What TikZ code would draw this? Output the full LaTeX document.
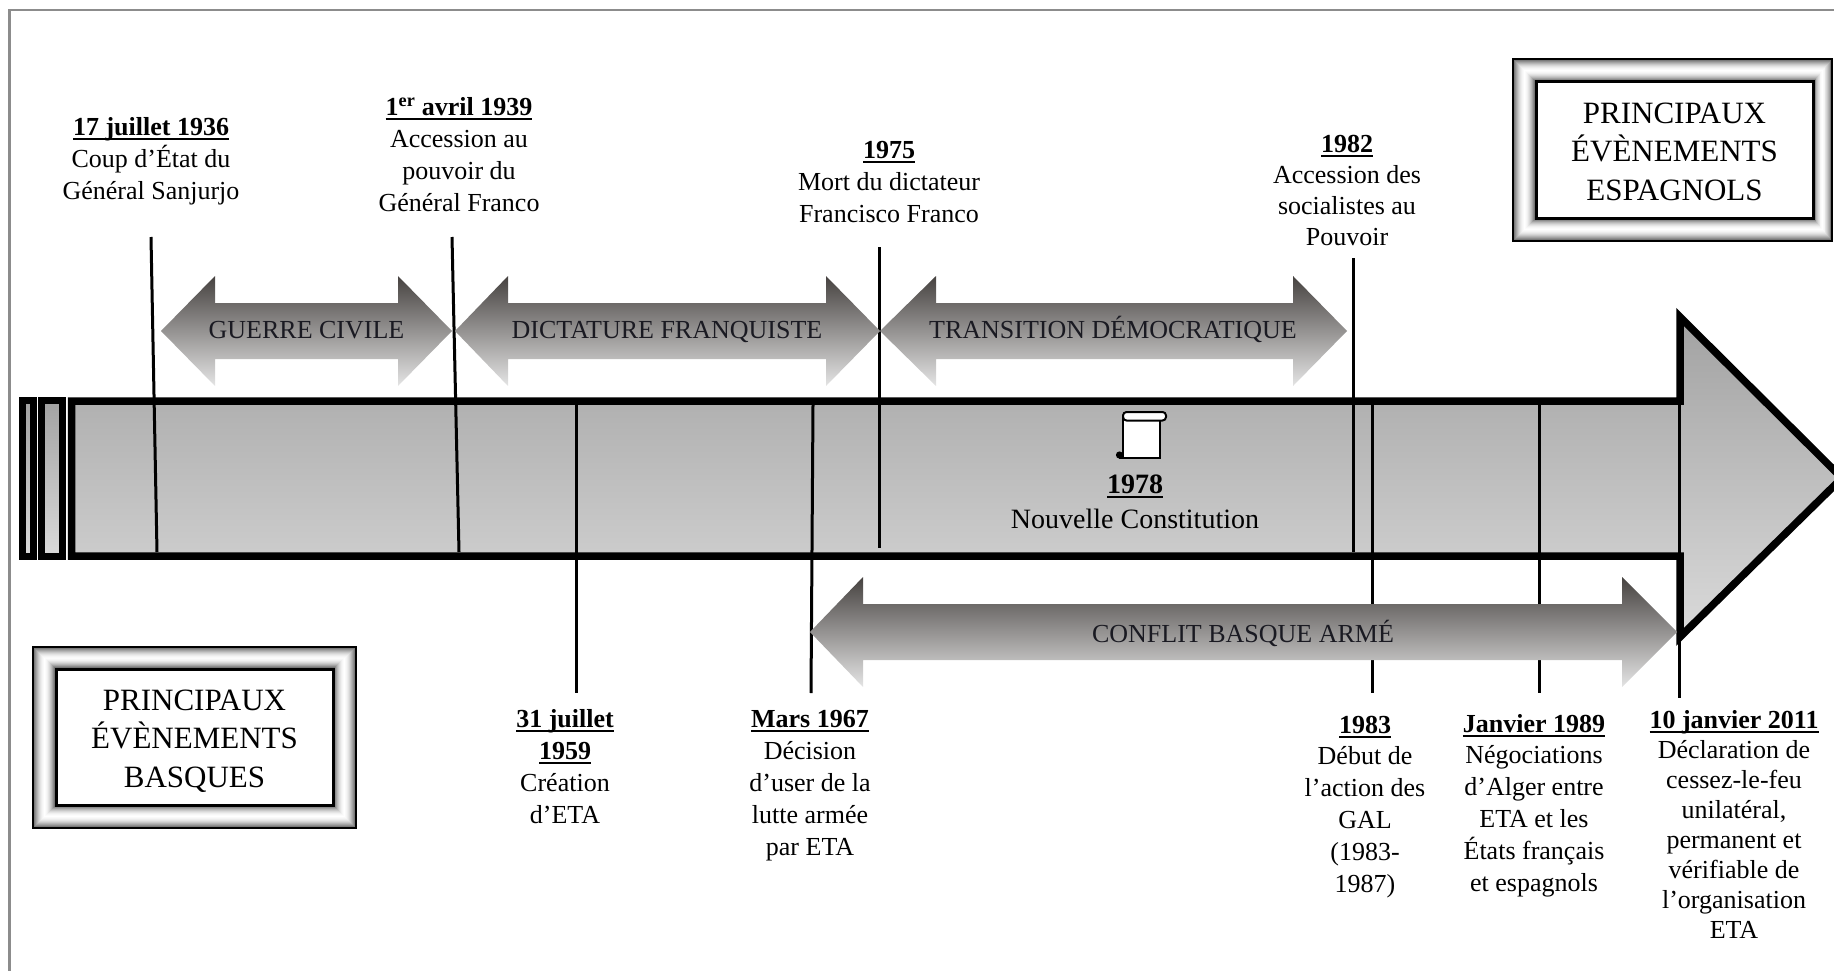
\documentclass[tikz,border=0pt]{standalone}
\usepackage{fontspec}
\setmainfont{Liberation Serif}
\usetikzlibrary{calc}
\newsavebox\ulbox
\newcommand\ulx[1]{\sbox\ulbox{#1}\rlap{\rule[-4.6pt]{\wd\ulbox}{1.9pt}}\usebox\ulbox}
\definecolor{frameGray}{RGB}{140,140,140}
\definecolor{perTop}{RGB}{70,66,64}
\definecolor{perMid}{RGB}{98,94,92}
\definecolor{perBot}{RGB}{228,228,228}
\definecolor{barTop}{RGB}{162,162,162}
\definecolor{barMid}{RGB}{215,215,215}
\definecolor{barBot}{RGB}{218,218,218}
\definecolor{labelText}{RGB}{26,26,34}
\tikzset{
  evt/.style={align=center, inner sep=0pt, anchor=north, font=\fontsize{26}{32}\selectfont},
  evline/.style={line width=3pt, black},
  period/.style={top color=perTop, middle color=perMid, bottom color=perBot},
  plabel/.style={font=\fontsize{26}{32}\selectfont, text=labelText, anchor=base, inner sep=0pt},
  boxtext/.style={align=center, inner sep=0pt, anchor=north, font=\fontsize{31}{38.5}\selectfont},
  barshade/.style={top color=barTop, middle color=barMid, bottom color=barBot},
}
\newcommand\dblarrow[5]{%
  \shade[period] (#1,#5) -- (#2,#5-55) -- (#2,#5-28) -- (#3,#5-28) -- (#3,#5-55) -- (#4,#5)
    -- (#3,#5+55) -- (#3,#5+28) -- (#2,#5+28) -- (#2,#5+55) -- cycle;}
\newcommand\shadedframe[4]{% outer NW, outer SE, inner NW, inner SE
  \coordinate (o1) at #1; \coordinate (o2) at #2;
  \coordinate (i1) at #3; \coordinate (i2) at #4;
  \foreach \k/\c in {0/60,1/52,2/44,3/36,4/29,5/22,6/16,7/11,8/7,9/4,10/2,11/0,12/1,13/3,14/6,15/10,16/15,17/21,18/28,19/36,20/45,21/54,22/62}
    {\fill[black!\c] ($(o1)!\k/23!(i1)$) rectangle ($(o2)!\k/23!(i2)$);}
  \draw[line width=2pt] (o1) rectangle (o2);
  \draw[line width=3pt, fill=white] (i1) rectangle (i2);}
\begin{document}
\begin{tikzpicture}[x=1pt, y=-1pt]
\useasboundingbox (0,0) rectangle (1834,971);
% outer frame
\draw[frameGray, line width=2.5pt] (9.5,990) -- (9.5,10) -- (1850,10);

% main time arrow
\draw[barshade, line width=7.5pt, line join=miter, miter limit=20]
  (71.5,401) -- (1680,401) -- (1680,317) -- (1842,478) -- (1680,637) -- (1680,556) -- (71.5,556) -- cycle;
\draw[barshade, line width=6.8pt] (22.4,400.4) rectangle (33.6,556.6);
\draw[barshade, line width=6.8pt] (41.5,400.4) rectangle (62.5,556.6);

% scroll icon
\draw[line width=2pt, fill=white] (1123,417) -- (1123,457.5) -- (1160,457.5) -- (1160,417);
\draw[line width=2pt, fill=white, rounded corners=3.5pt] (1123,412) rectangle (1166,420.5);
\fill (1119.5,455) circle (3.6);
\draw[line width=2pt] (1119,458) -- (1123,458);

% event lines (top events)
\coordinate (a1936) at (151,237);  \coordinate (b1936) at (157,552);
\coordinate (a1939) at (452,237);  \coordinate (b1939) at (459,552);
\coordinate (a1975) at (879,247);  \coordinate (b1975) at (879,548);
\coordinate (a1982) at (1353,258); \coordinate (b1982) at (1353,552);
% event lines (bottom events)
\coordinate (a1959) at (576,405);  \coordinate (b1959) at (576,693);
\coordinate (a1967) at (813,405);  \coordinate (b1967) at (811,693);
\coordinate (a1983) at (1372,405); \coordinate (b1983) at (1372,693);
\coordinate (a1989) at (1539,405); \coordinate (b1989) at (1539,693);
\coordinate (a2011) at (1679,405); \coordinate (b2011) at (1679,698);
\foreach \e in {1936,1939,1975,1982,1959,1967,1983,1989,2011}
  {\draw[evline] (a\e) -- (b\e);}

% period arrows
\dblarrow{161}{215}{398}{452}{331}
\dblarrow{455}{508}{826}{880}{331}
\dblarrow{880}{936}{1293}{1347}{331}
\dblarrow{810}{863}{1622}{1677}{632}
\node[plabel] (guerre) at (306.5,338) {GUERRE CIVILE};
\node[plabel] (dictature) at (667,338) {DICTATURE FRANQUISTE};
\node[plabel] (transition) at (1113,338) {TRANSITION DÉMOCRATIQUE};
\node[plabel] (conflit) at (1243,642) {CONFLIT BASQUE ARMÉ};

% constitution text in bar
\node[align=center, inner sep=0pt, anchor=north, font=\fontsize{28}{35}\selectfont] (t1978) at (1135,468.5)
  {\strut\ulx{\textbf{1978}}\\Nouvelle Constitution};

% top events
\node[evt] (t1936) at (151,112.6) {\strut\ulx{\textbf{17 juillet 1936}}\\Coup d'État du\\Général Sanjurjo};
\node[evt] (t1939) at (459,92.6) {\strut\ulx{\textbf{1\textsuperscript{er} avril 1939}}\\Accession au\\pouvoir du\\Général Franco};
\node[evt] (t1975) at (889,135.6) {\strut\ulx{\textbf{1975}}\\Mort du dictateur\\Francisco Franco};
\node[evt, font=\fontsize{26}{31}\selectfont] (t1982) at (1347,130.3) {\strut\ulx{\textbf{1982}}\\Accession des\\socialistes au\\Pouvoir};

% bottom events
\node[evt] (t1959) at (565,704.6) {\strut\ulx{\textbf{31 juillet}}\\\ulx{\textbf{1959}}\\Création\\d'ETA};
\node[evt] (t1967) at (810,704.6) {\strut\ulx{\textbf{Mars 1967}}\\Décision\\d'user de la\\lutte armée\\par ETA};
\node[evt, font=\fontsize{26}{31.8}\selectfont] (t1983) at (1365,710.7) {\strut\ulx{\textbf{1983}}\\Début de\\l'action des\\GAL\\(1983-\\1987)};
\node[evt, font=\fontsize{26}{31.8}\selectfont] (t1989) at (1534,709.7) {\strut\ulx{\textbf{Janvier 1989}}\\Négociations\\d'Alger entre\\ETA et les\\États français\\et espagnols};
\node[evt, font=\fontsize{26}{30}\selectfont] (t2011) at (1734,707) {\strut\ulx{\textbf{10 janvier 2011}}\\Déclaration de\\cessez-le-feu\\unilatéral,\\permanent et\\vérifiable de\\l'organisation\\ETA};

% legend boxes
\shadedframe{(1513,59)}{(1832,241)}{(1536,82)}{(1813,218)}
\node[boxtext] (esp) at (1674.5,96) {\strut PRINCIPAUX\\ÉVÈNEMENTS\\ESPAGNOLS};
\shadedframe{(33,647)}{(356,828)}{(56,669)}{(333,805)}
\node[boxtext] (basq) at (194.5,683) {\strut PRINCIPAUX\\ÉVÈNEMENTS\\BASQUES};
\end{tikzpicture}
\end{document}
